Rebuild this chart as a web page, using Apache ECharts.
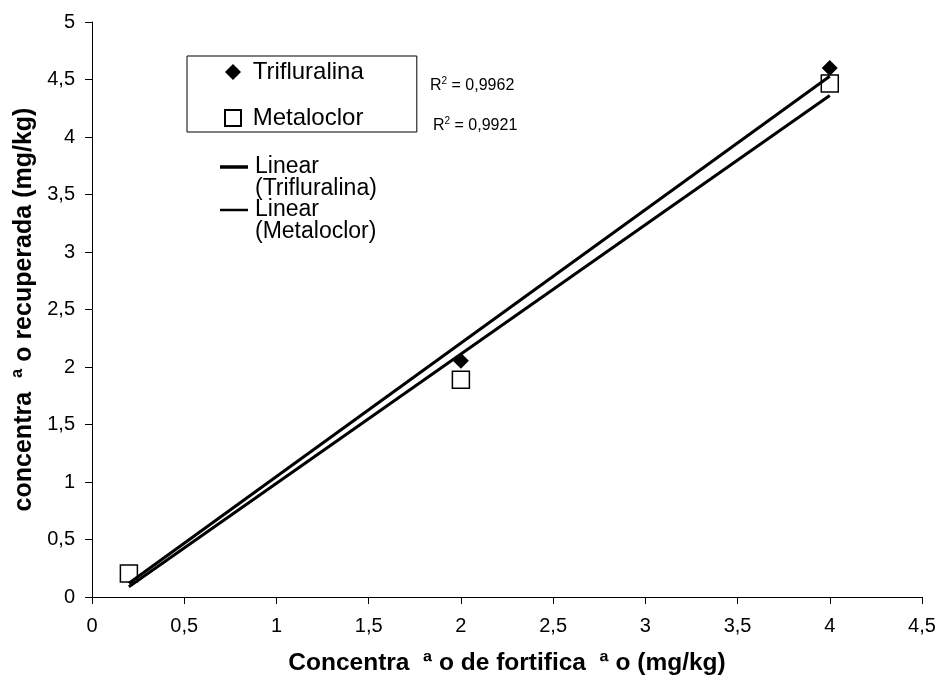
<!DOCTYPE html>
<html><head><meta charset="utf-8">
<script src="https://cdn.jsdelivr.net/npm/echarts@6/dist/echarts.min.js"></script>
<style>html,body{margin:0;padding:0;background:#fff}#c{width:936px;height:678px}</style>
</head><body><div id="c"></div>
<script>
const xFort = [0.2, 2, 4];
const trifluralina = [0.2, 2.055, 4.6];
const metaloclor = [0.205, 1.89, 4.465];
const r2Labels = ['0,9962', '0,9921'];
const lineLegend = [['Linear', '(Trifluralina)'], ['Linear', '(Metaloclor)']];

function fit(xs, ys) {
  const n = xs.length;
  const mx = xs.reduce((a, b) => a + b, 0) / n;
  const my = ys.reduce((a, b) => a + b, 0) / n;
  let sxy = 0, sxx = 0;
  for (let i = 0; i < n; i++) { sxy += (xs[i] - mx) * (ys[i] - my); sxx += (xs[i] - mx) ** 2; }
  const b = sxy / sxx, a = my - b * mx;
  return [[xs[0], a + b * xs[0]], [xs[n - 1], a + b * xs[n - 1]]];
}
const font = 'Liberation Sans, Arial, sans-serif';
const fmt = v => String(v).replace('.', ',');
const rich = { a: { fontSize: 16, fontFamily: font, color: '#000' }, s: { fontSize: 10, fontFamily: font, color: '#000', padding: [0, 0, 9, 0] } };
const chart = echarts.init(document.getElementById('c'));
chart.setOption({
  animation: false,
  backgroundColor: '#fff',
  textStyle: { fontFamily: font },
  grid: { left: 92, right: 14, top: 22, bottom: 81, outerBoundsMode: 'none', containLabel: false },
  xAxis: {
    type: 'value', min: 0, max: 4.5, interval: 0.5,
    name: 'Concentra  ª o de fortifica  ª o (mg/kg)', nameLocation: 'middle', nameGap: 54,
    nameTextStyle: { fontSize: 24.5, fontWeight: 'bold', color: '#000', fontFamily: font },
    axisLine: { lineStyle: { color: '#000', width: 1 } },
    axisTick: { length: 7, lineStyle: { color: '#000' } },
    axisLabel: { fontSize: 20, color: '#000', margin: 19, formatter: fmt, fontFamily: font },
    splitLine: { show: false }
  },
  yAxis: {
    type: 'value', min: 0, max: 5, interval: 0.5,
    name: 'concentra  ª o recuperada (mg/kg)', nameLocation: 'middle', nameGap: 55,
    nameTextStyle: { fontSize: 25, fontWeight: 'bold', color: '#000', fontFamily: font },
    axisLine: { show: true, lineStyle: { color: '#000', width: 1 } },
    axisTick: { show: true, length: 7, lineStyle: { color: '#000' } },
    axisLabel: { fontSize: 20, color: '#000', margin: 17, formatter: fmt, fontFamily: font },
    splitLine: { show: false }
  },
  legend: {
    data: ['Trifluralina', 'Metaloclor'], orient: 'vertical', left: 187, top: 56,
    padding: [4, 53, 2, 37], itemGap: 22,
    borderColor: '#000', borderWidth: 1, itemWidth: 16, itemHeight: 16,
    formatter: n => ' ' + n,
    textStyle: { fontSize: 24, color: '#000', fontFamily: font, lineHeight: 24 }
  },
  graphic: [
    { type: 'text', left: 430, top: 76, style: { rich, text: '{a|R}{s|2}{a| = ' + r2Labels[0] + '}' } },
    { type: 'text', left: 433, top: 116, style: { rich, text: '{a|R}{s|2}{a| = ' + r2Labels[1] + '}' } },
    { type: 'line', shape: { x1: 220, y1: 167, x2: 248, y2: 167 }, style: { stroke: '#000', lineWidth: 3.5 } },
    { type: 'line', shape: { x1: 220, y1: 210, x2: 248, y2: 210 }, style: { stroke: '#000', lineWidth: 2.5 } },
    { type: 'text', left: 255, top: 155, style: { text: lineLegend[0].join('\n'), fontSize: 23, lineHeight: 22, fontFamily: font, fill: '#000' } },
    { type: 'text', left: 255, top: 198, style: { text: lineLegend[1].join('\n'), fontSize: 23, lineHeight: 22, fontFamily: font, fill: '#000' } }
  ],
  series: [
    {
      name: 'Trifluralina', type: 'scatter', symbol: 'diamond', symbolSize: 16, z: 2,
      itemStyle: { color: '#000', opacity: 1 },
      data: xFort.map((x, i) => [x, trifluralina[i]])
    },
    {
      name: 'Metaloclor', type: 'scatter', symbol: 'rect', symbolSize: 17, z: 3,
      itemStyle: { color: '#fff', borderColor: '#000', borderWidth: 1.5, opacity: 1 },
      data: xFort.map((x, i) => [x, metaloclor[i]])
    },
    {
      name: 'Linear (Trifluralina)', type: 'line', showSymbol: false, symbol: 'none', z: 4,
      lineStyle: { color: '#000', width: 3 }, itemStyle: { color: '#000' },
      data: fit(xFort, trifluralina)
    },
    {
      name: 'Linear (Metaloclor)', type: 'line', showSymbol: false, symbol: 'none', z: 4,
      lineStyle: { color: '#000', width: 3 }, itemStyle: { color: '#000' },
      data: fit(xFort, metaloclor)
    }
  ]
});
</script></body></html>
